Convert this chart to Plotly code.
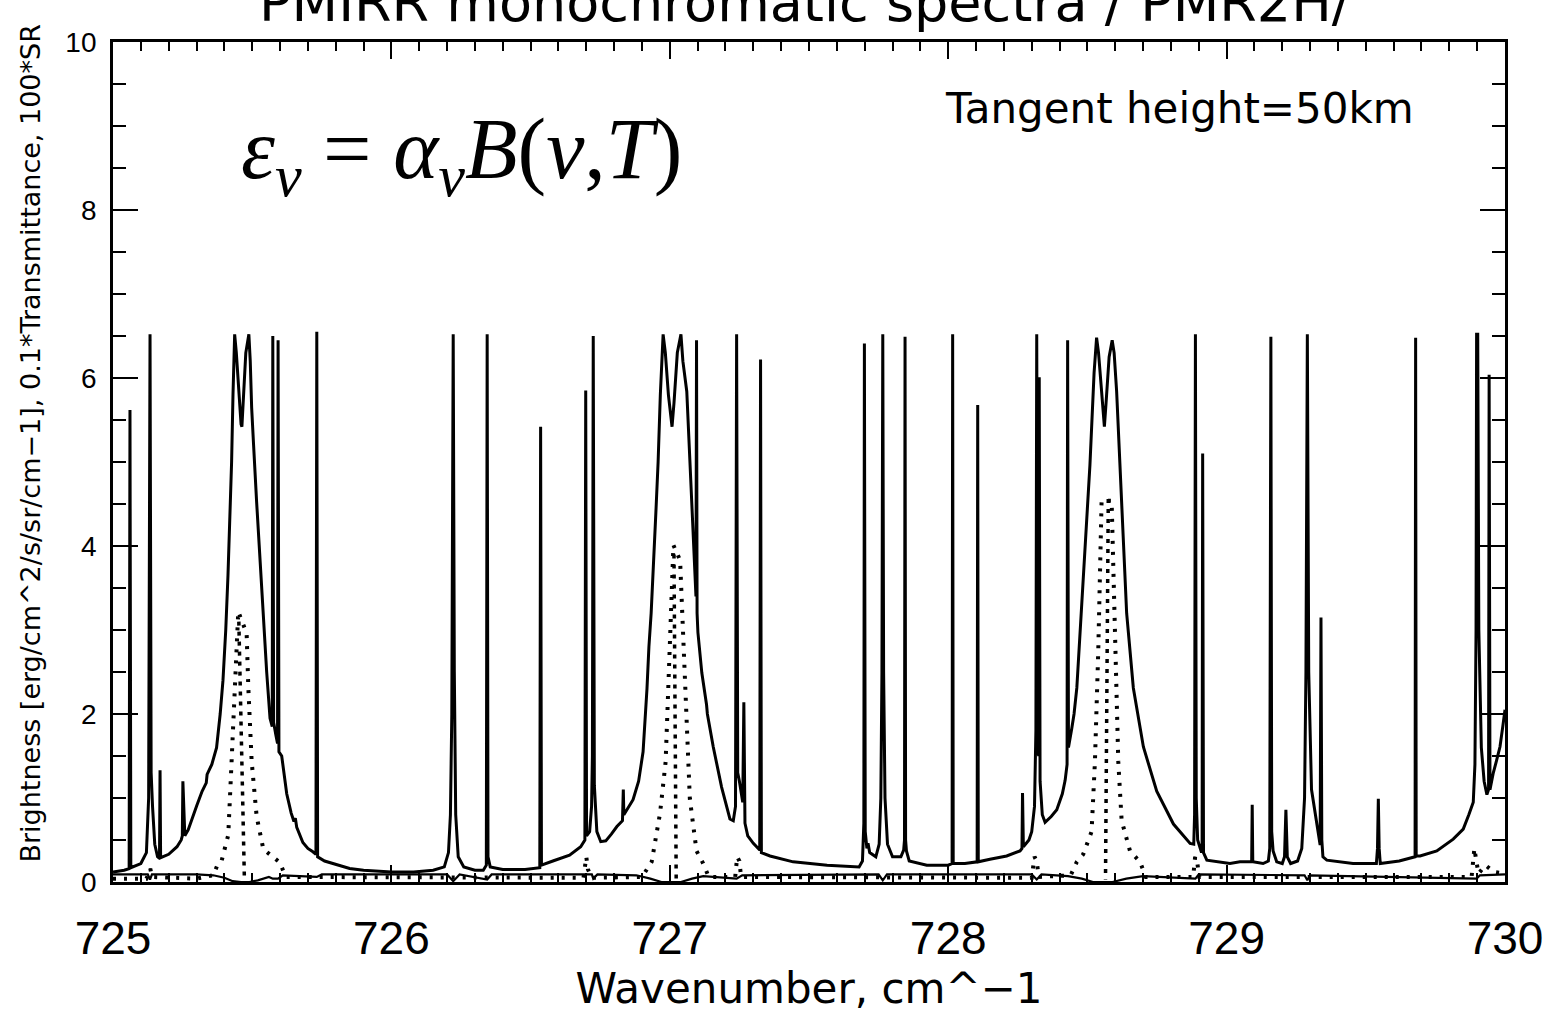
import plotly.graph_objects as go

# ---------------- data ----------------
# Brightness spectrum (solid line): wavenumber [cm^-1], brightness
bright_wn = [
    725.000, 725.040, 725.058, 725.061, 725.064, 725.100, 725.120, 725.128, 725.133, 725.137,
    725.142, 725.150, 725.160, 725.167, 725.169, 725.171, 725.200, 725.230, 725.245, 725.249,
    725.251, 725.254, 725.258, 725.270, 725.285, 725.301, 725.320, 725.335, 725.338, 725.355,
    725.372, 725.385, 725.395, 725.405, 725.413, 725.420, 725.426, 725.431, 725.437, 725.443,
    725.452, 725.460, 725.463, 725.468, 725.477, 725.488, 725.493, 725.498, 725.500, 725.505,
    725.516, 725.528, 725.539, 725.552, 725.564, 725.572, 725.574, 725.577, 725.585, 725.591,
    725.593, 725.596, 725.606, 725.624, 725.640, 725.650, 725.655, 725.660, 725.682, 725.700,
    725.718, 725.729, 725.732, 725.735, 725.760, 725.790, 725.850, 725.900, 726.000, 726.080,
    726.150, 726.190, 726.205, 726.212, 726.217, 726.222, 726.226, 726.231, 726.240, 726.260,
    726.300, 726.330, 726.341, 726.344, 726.347, 726.355, 726.400, 726.480, 726.533, 726.536,
    726.539, 726.580, 726.640, 726.680, 726.695, 726.698, 726.701, 726.712, 726.719, 726.722,
    726.725, 726.729, 726.738, 726.752, 726.770, 726.790, 726.810, 726.830, 726.833, 726.835,
    726.850, 726.868, 726.888, 726.904, 726.918, 726.922, 726.925, 726.933, 726.940, 726.950,
    726.958, 726.966, 726.976, 726.984, 726.995, 727.005, 727.008, 727.015, 727.027, 727.040,
    727.047, 727.061, 727.078, 727.091, 727.094, 727.096, 727.098, 727.101, 727.115, 727.132,
    727.135, 727.156, 727.186, 727.216, 727.228, 727.236, 727.240, 727.244, 727.250, 727.262,
    727.266, 727.270, 727.280, 727.300, 727.323, 727.326, 727.329, 727.360, 727.443, 727.565,
    727.680, 727.692, 727.697, 727.699, 727.702, 727.708, 727.712, 727.718, 727.740, 727.752,
    727.758, 727.762, 727.765, 727.768, 727.773, 727.782, 727.800, 727.830, 727.840, 727.843,
    727.845, 727.847, 727.850, 727.860, 727.923, 728.000, 728.014, 728.016, 728.018, 728.060,
    728.104, 728.106, 728.108, 728.150, 728.210, 728.258, 728.265, 728.267, 728.270, 728.290,
    728.300, 728.310, 728.315, 728.318, 728.322, 728.325, 728.327, 728.330, 728.338, 728.348,
    728.370, 728.390, 728.410, 728.420, 728.427, 728.429, 728.432, 728.444, 728.452, 728.462,
    728.472, 728.484, 728.497, 728.509, 728.524, 728.533, 728.540, 728.550, 728.558, 728.561,
    728.567, 728.578, 728.589, 728.596, 728.605, 728.623, 728.641, 728.665, 728.701, 728.749,
    728.809, 728.869, 728.882, 728.885, 728.888, 728.891, 728.896, 728.910, 728.912, 728.914,
    728.917, 728.929, 729.012, 729.048, 729.090, 729.092, 729.094, 729.131, 729.150, 729.155,
    729.159, 729.162, 729.167, 729.180, 729.200, 729.208, 729.213, 729.218, 729.230, 729.255,
    729.270, 729.280, 729.285, 729.290, 729.295, 729.305, 729.320, 729.332, 729.336, 729.339,
    729.342, 729.346, 729.360, 729.454, 729.538, 729.542, 729.545, 729.548, 729.552, 729.620,
    729.670, 729.677, 729.679, 729.681, 729.695, 729.755, 729.814, 729.850, 729.870, 729.886,
    729.892, 729.896, 729.898, 729.902, 729.906, 729.915, 729.925, 729.935, 729.941, 729.943,
    729.946, 729.958, 729.970, 729.982, 729.992, 730.000,
]
bright_val = [
    0.12, 0.14, 0.16, 5.62, 0.17, 0.22, 0.35, 1.00, 6.52, 1.30,
    0.90, 0.45, 0.30, 0.28, 1.33, 0.29, 0.33, 0.42, 0.50, 0.55,
    1.20, 0.90, 0.55, 0.62, 0.75, 0.91, 1.08, 1.18, 1.28, 1.40,
    1.60, 2.00, 2.40, 3.00, 3.65, 4.30, 5.00, 5.80, 6.52, 6.30,
    5.80, 5.45, 5.42, 5.70, 6.30, 6.52, 6.20, 5.65, 5.50, 5.20,
    4.52, 3.80, 3.20, 2.50, 1.95, 1.85, 6.50, 1.90, 1.75, 1.65,
    6.45, 1.55, 1.50, 1.05, 0.82, 0.72, 0.76, 0.65, 0.47, 0.40,
    0.36, 0.33, 6.55, 0.30, 0.25, 0.22, 0.16, 0.14, 0.12, 0.12,
    0.14, 0.18, 0.35, 0.80, 2.00, 6.52, 2.50, 0.80, 0.30, 0.18,
    0.14, 0.14, 0.20, 6.52, 0.30, 0.18, 0.15, 0.15, 0.17, 5.42,
    0.20, 0.25, 0.32, 0.42, 0.50, 5.85, 0.55, 0.60, 0.90, 1.50,
    6.50, 1.15, 0.60, 0.48, 0.49, 0.57, 0.66, 0.73, 1.10, 0.80,
    0.88, 0.98, 1.20, 1.55, 2.30, 2.75, 2.80, 3.20, 3.65, 4.40,
    5.00, 5.80, 6.52, 6.30, 5.80, 5.45, 5.42, 5.70, 6.30, 6.52,
    6.20, 5.84, 4.52, 3.64, 3.40, 6.45, 3.20, 2.97, 2.49, 2.11,
    2.00, 1.61, 1.13, 0.75, 0.73, 0.90, 6.52, 1.30, 1.20, 0.95,
    2.14, 0.70, 0.55, 0.46, 0.38, 6.22, 0.35, 0.31, 0.24, 0.20,
    0.18, 0.25, 0.70, 6.41, 0.60, 0.40, 0.46, 0.35, 0.30, 0.45,
    1.00, 2.50, 6.52, 2.50, 1.00, 0.45, 0.30, 0.30, 0.38, 0.50,
    6.49, 0.50, 0.37, 0.25, 0.20, 0.20, 0.22, 6.52, 0.22, 0.22,
    0.24, 5.68, 0.24, 0.27, 0.31, 0.37, 0.40, 1.06, 0.42, 0.50,
    0.60, 0.90, 1.80, 6.52, 1.60, 1.50, 6.01, 1.20, 0.80, 0.71,
    0.78, 0.86, 1.05, 1.21, 1.40, 6.45, 1.60, 1.83, 2.00, 2.31,
    2.90, 3.63, 4.30, 4.96, 6.06, 6.48, 6.30, 5.85, 5.50, 5.42,
    5.70, 6.25, 6.45, 6.30, 5.84, 4.52, 3.20, 2.31, 1.61, 1.08,
    0.69, 0.46, 0.45, 0.80, 6.52, 1.00, 0.50, 0.35, 0.40, 5.10,
    0.35, 0.26, 0.22, 0.24, 0.24, 0.92, 0.24, 0.22, 0.25, 0.40,
    6.49, 0.60, 0.37, 0.24, 0.22, 0.30, 0.86, 0.30, 0.22, 0.25,
    0.40, 1.00, 2.50, 6.52, 2.50, 1.10, 0.75, 0.50, 0.44, 3.15,
    0.50, 0.30, 0.26, 0.22, 0.22, 0.40, 0.99, 0.40, 0.22, 0.25,
    0.29, 0.30, 6.48, 0.31, 0.31, 0.37, 0.51, 0.63, 0.80, 0.95,
    1.40, 3.00, 6.52, 6.52, 3.00, 1.60, 1.20, 1.04, 1.10, 6.04,
    1.10, 1.30, 1.45, 1.61, 1.85, 2.05,
]

# 0.1*Transmittance (solid line near the bottom)
trans_wn = [
    725.000, 725.125, 725.133, 725.140, 725.300, 725.360, 725.400, 725.430, 725.460, 725.490,
    725.520, 725.560, 725.574, 725.593, 725.610, 725.732, 725.750, 726.200, 726.222, 726.245,
    726.344, 726.360, 726.720, 726.725, 726.740, 726.880, 726.930, 726.970, 727.040, 727.080,
    727.120, 727.240, 727.260, 727.750, 727.765, 727.780, 728.300, 728.318, 728.335, 728.430,
    728.480, 728.520, 728.590, 728.640, 728.700, 728.888, 728.900, 729.280, 729.290, 729.300,
    729.898, 729.910, 730.000,
]
trans_val = [
    0.09, 0.09, 0.03, 0.09, 0.09, 0.08, 0.05, 0.01, 0.00, 0.00,
    0.02, 0.06, 0.04, 0.04, 0.08, 0.06, 0.09, 0.09, 0.01, 0.09,
    0.03, 0.09, 0.09, 0.04, 0.09, 0.08, 0.04, 0.00, 0.00, 0.04,
    0.07, 0.04, 0.08, 0.09, 0.02, 0.09, 0.09, 0.03, 0.09, 0.07,
    0.04, 0.00, 0.00, 0.04, 0.07, 0.04, 0.09, 0.08, 0.02, 0.08,
    0.04, 0.08, 0.09,
]

# 100*SR (dotted line): outer profiles
sr_wn = [
    725.000, 725.120, 725.128, 725.134, 725.140, 725.300, 725.360, 725.376, 725.390, 725.414,
    725.426, 725.438, 725.450, 725.480, 725.486, 725.498, 725.516, 725.540, 725.576, 725.600,
    725.620, 726.690, 726.700, 726.706, 726.720, 726.900, 726.935, 726.965, 726.985, 726.995,
    727.003, 727.013, 727.037, 727.054, 727.072, 727.096, 727.120, 727.140, 727.235, 727.242,
    727.250, 727.256, 728.300, 728.310, 728.318, 728.325, 728.440, 728.462, 728.485, 728.515,
    728.527, 728.539, 728.551, 728.587, 728.599, 728.611, 728.623, 728.653, 728.689, 728.710,
    728.880, 728.887, 728.895, 728.902, 729.880, 729.890, 729.897, 729.905, 729.930, 729.960,
    730.000,
]
sr_val = [
    0.04, 0.04, 0.10, 0.16, 0.06, 0.04, 0.08, 0.21, 0.25, 0.56,
    1.44, 2.32, 3.22, 2.96, 2.32, 1.44, 0.78, 0.39, 0.30, 0.23,
    0.06, 0.05, 0.30, 0.15, 0.05, 0.06, 0.24, 0.82, 1.43, 2.31,
    3.30, 4.01, 3.83, 2.31, 0.99, 0.37, 0.22, 0.06, 0.06, 0.30,
    0.25, 0.06, 0.05, 0.30, 0.25, 0.06, 0.08, 0.24, 0.33, 0.60,
    1.43, 2.75, 4.54, 4.54, 2.75, 1.43, 0.73, 0.37, 0.24, 0.06,
    0.06, 0.30, 0.22, 0.06, 0.06, 0.40, 0.25, 0.10, 0.20, 0.12,
    0.10,
]
# 100*SR line cores (near-vertical dotted columns)
core_wn = [725.452, 725.472, None, 727.015, 727.023, None, 728.575, 728.565]
core_val = [3.10, 0.03, None, 3.90, 0.03, None, 4.56, 0.03]

x_ticks = [725, 726, 727, 728, 729, 730]
y_ticks = [0, 2, 4, 6, 8, 10]

# ---------------- figure ----------------
FONT = "DejaVu Sans"
NUMFONT = "Liberation Sans"
fig = go.Figure()
fig.add_trace(go.Scatter(x=bright_wn, y=bright_val, mode="lines",
                         line=dict(color="black", width=3), showlegend=False))
fig.add_trace(go.Scatter(x=trans_wn, y=trans_val, mode="lines",
                         line=dict(color="black", width=2.2), showlegend=False))
fig.add_trace(go.Scatter(x=sr_wn, y=sr_val, mode="lines",
                         line=dict(color="black", width=4, dash="3px,8px"), showlegend=False))
fig.add_trace(go.Scatter(x=core_wn, y=core_val, mode="lines",
                         line=dict(color="black", width=3.5, dash="4px,6px"), showlegend=False))

fig.update_layout(
    width=1565, height=1021,
    margin=dict(l=113, r=60, t=42, b=139),
    paper_bgcolor="white", plot_bgcolor="white",
    font=dict(family=FONT, color="black"),
    xaxis=dict(range=[725, 730], tickvals=x_ticks, ticktext=[str(v) for v in x_ticks],
               ticks="inside", ticklen=17, tickwidth=2.2, tickcolor="black",
               showline=True, linewidth=2.8, linecolor="black", mirror="allticks",
               showgrid=False, zeroline=False,
               tickfont=dict(size=46, family=NUMFONT), ticklabelstandoff=14,
               minor=dict(dtick=0.1, tick0=725, ticks="inside", ticklen=9,
                          tickwidth=1.8, tickcolor="black", showgrid=False),
               title=dict(text="Wavenumber, cm^\u22121", font=dict(size=42, family=FONT),
                          standoff=6)),
    yaxis=dict(range=[0, 10], tickvals=y_ticks, ticktext=[str(v) for v in y_ticks],
               ticks="inside", ticklen=25, tickwidth=2.2, tickcolor="black",
               showline=True, linewidth=2.8, linecolor="black", mirror="allticks",
               showgrid=False, zeroline=False,
               tickfont=dict(size=28, family=NUMFONT), ticklabelstandoff=8,
               minor=dict(dtick=0.5, tick0=0, ticks="inside", ticklen=13,
                          tickwidth=1.8, tickcolor="black", showgrid=False)),
    annotations=[
        dict(text="Brightness [erg/cm^2/s/sr/cm\u22121], 0.1*Transmittance, 100*SR",
             xref="paper", yref="paper", x=-0.0596, y=0.522, textangle=-90,
             showarrow=False, font=dict(size=27, family=FONT),
             xanchor="center", yanchor="middle"),
        dict(text="PMIRR monochromatic spectra / PMR2H/",
             xref="paper", yref="paper", x=0.497, y=1.007, showarrow=False,
             font=dict(size=54, family=FONT), xanchor="center", yanchor="bottom"),
        dict(text="Tangent height=50km",
             xref="paper", yref="paper", x=0.7665, y=0.921, showarrow=False,
             font=dict(size=42, family=FONT), xanchor="center", yanchor="middle"),
        dict(text="<i>\u03b5</i><sub><i>\u03bd</i></sub> = <i>\u03b1</i><sub><i>\u03bd</i></sub><i>B</i>(<i>\u03bd</i>,<i>T</i>)",
             xref="paper", yref="paper", x=0.2507, y=0.865, showarrow=False,
             font=dict(size=86, family="Liberation Serif"), xanchor="center", yanchor="middle"),
    ],
)

fig.write_html("out.html")
